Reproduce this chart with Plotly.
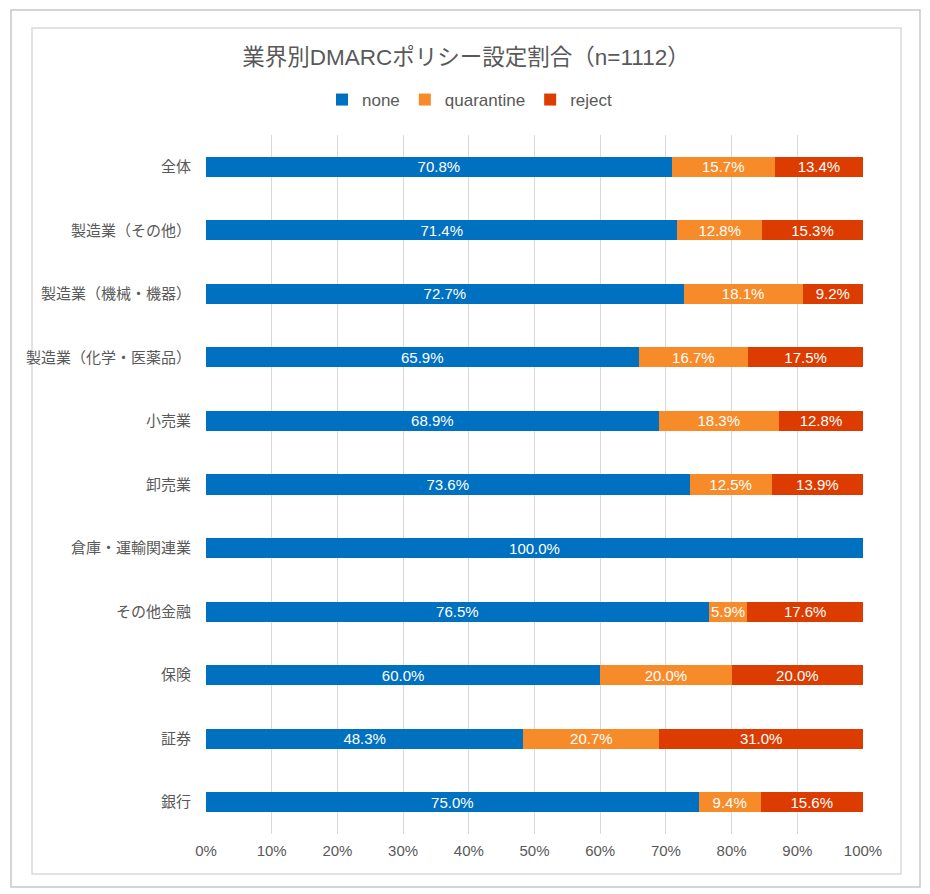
import plotly.graph_objects as go

categories = [
    "全体",
    "製造業（その他）",
    "製造業（機械・機器）",
    "製造業（化学・医薬品）",
    "小売業",
    "卸売業",
    "倉庫・運輸関連業",
    "その他金融",
    "保険",
    "証券",
    "銀行",
]
none_pct = [70.8, 71.4, 72.7, 65.9, 68.9, 73.6, 100.0, 76.5, 60.0, 48.3, 75.0]
quarantine_pct = [15.7, 12.8, 18.1, 16.7, 18.3, 12.5, 0, 5.9, 20.0, 20.7, 9.4]
reject_pct = [13.4, 15.3, 9.2, 17.5, 12.8, 13.9, 0, 17.6, 20.0, 31.0, 15.6]

series = [
    ("none", none_pct, "#0070C0"),
    ("quarantine", quarantine_pct, "#F78B2A"),
    ("reject", reject_pct, "#DC3C00"),
]

# the page body has an 8px margin, so the figure starts at (8, 8) on screen
OFF = 8
W, H = 930 - OFF, 894 - OFF
ML, MR, MT, MB = 206 - OFF, 67, 135 - OFF, 60
FONT = "Liberation Sans, Arial, Noto Sans CJK JP, sans-serif"
GREY = "#595959"


def px(x):
    # screen x -> paper x
    return (x - OFF - ML) / (W - ML - MR)


def py(y):
    # screen y -> paper y
    return (H - MB - (y - OFF)) / (H - MT - MB)


fig = go.Figure()
for name, vals, color in series:
    fig.add_trace(
        go.Bar(
            y=categories,
            x=vals,
            name=name,
            orientation="h",
            marker=dict(color=color, line=dict(width=0)),
            text=[f"{v:.1f}%" if v > 0 else "" for v in vals],
            textposition="inside",
            insidetextanchor="middle",
            textangle=0,
            constraintext="none",
            textfont=dict(color="white", size=15, family=FONT),
            hoverinfo="skip",
        )
    )

fig.update_layout(
    width=W,
    height=H,
    barmode="stack",
    barnorm="percent",  # rows of rounded shares still fill 100%
    bargap=0.685,
    plot_bgcolor="white",
    paper_bgcolor="white",
    margin=dict(l=ML, r=MR, t=MT, b=MB),
    font=dict(family=FONT, color=GREY, size=15),
    uniformtext=dict(minsize=15, mode="show"),
    title=dict(
        text="業界別DMARCポリシー設定割合（n=1112）",
        x=(466 - OFF) / W,
        xref="container",
        xanchor="center",
        y=1 - (57 - OFF) / H,
        yref="container",
        yanchor="middle",
        font=dict(size=22.5, color=GREY, family=FONT),
    ),
    legend=dict(
        orientation="h",
        xref="container",
        yref="container",
        x=(470 - OFF) / W,
        xanchor="center",
        y=1 - (100 - OFF) / H,
        yanchor="middle",
        font=dict(size=17, color=GREY),
        itemwidth=30,
        traceorder="normal",
    ),
    xaxis=dict(
        range=[0, 100],
        tickvals=list(range(0, 101, 10)),
        ticktext=[f"{v}%" for v in range(0, 101, 10)],
        showgrid=True,
        gridcolor="#D9D9D9",
        gridwidth=1,
        zeroline=False,
        showline=False,
        ticks="",
        ticklabelstandoff=6,
        tickfont=dict(size=15, color=GREY),
        fixedrange=True,
    ),
    yaxis=dict(
        autorange="reversed",
        showgrid=False,
        showline=False,
        ticks="",
        ticklabelstandoff=14,
        tickfont=dict(size=15, color=GREY),
        fixedrange=True,
    ),
    shapes=[
        dict(
            type="rect", xref="paper", yref="paper",
            x0=px(11), x1=px(920), y0=py(887), y1=py(10),
            line=dict(color="#C8C8C8", width=1.5), layer="below",
        ),
        dict(
            type="rect", xref="paper", yref="paper",
            x0=px(32), x1=px(901), y0=py(874), y1=py(28),
            line=dict(color="#D9D9D9", width=1.5), layer="below",
        ),
    ],
)

fig.write_html("out.html")
